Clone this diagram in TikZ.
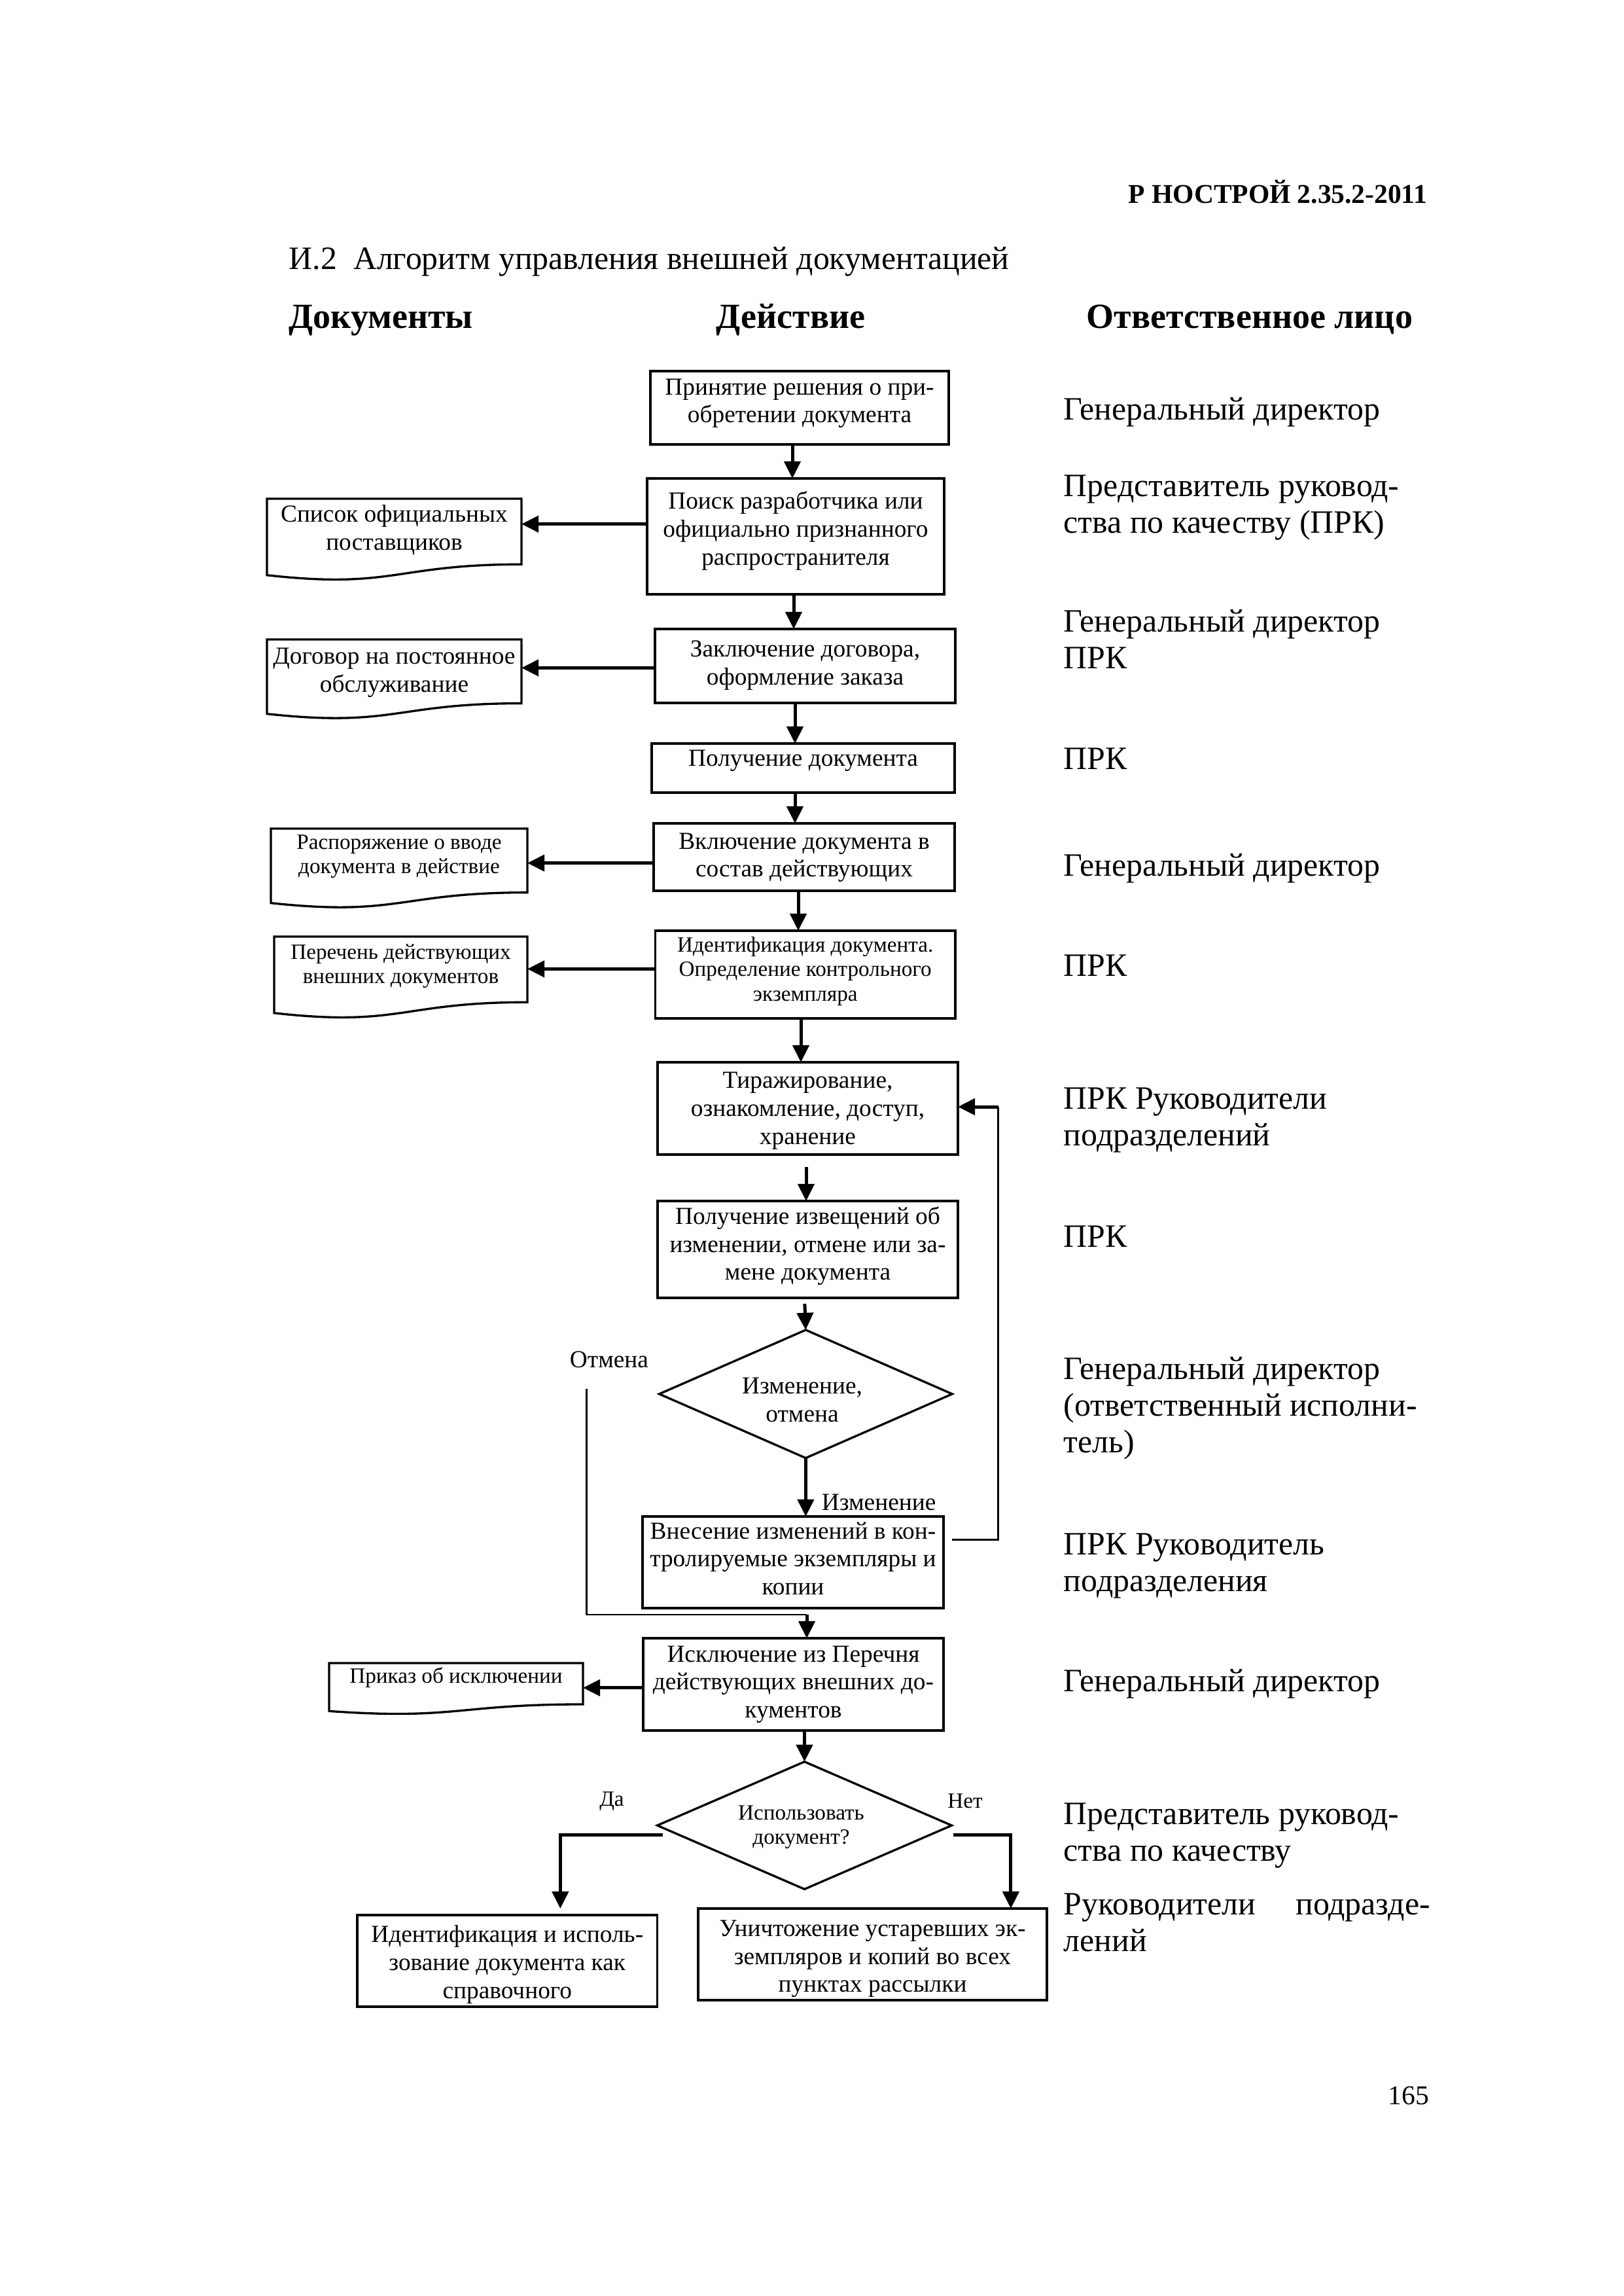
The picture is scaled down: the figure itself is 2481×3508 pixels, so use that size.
\documentclass[tikz,border=0pt]{standalone}
\usepackage{fontspec}
\setmainfont{Liberation Serif}
\usetikzlibrary{arrows.meta,shapes.geometric,fit}

\newcommand\fsz[2]{\fontsize{#1}{#2}\selectfont}

\tikzset{
  box/.style={draw, line width=0.8pt, inner sep=0pt, outer sep=0pt},
  doc/.style={draw, line width=0.8pt},
  dia/.style={draw, diamond, line width=0.8pt, inner sep=0pt, outer sep=0pt},
  t9/.style={align=center, inner sep=0pt, font=\fsz{9}{10.3}},
  t8/.style={align=center, inner sep=0pt, font=\fsz{8}{9}},
  resp/.style={anchor=north west, align=left, inner sep=0pt, font=\fsz{12}{13.5}},
  arr/.style={line width=1.2pt, -{Triangle[length=6.3pt,width=6pt]}},
  thinln/.style={line width=0.6pt},
}

% #1 name, #2 x1, #3 y1, #4 x2, #5 y2, #6 text style, #7 first baseline offset, #8 text
\newcommand\flbox[8]{%
  \node[box, fit={(#2,#3) (#4,#5)}] (#1) {};
  \node[#6, anchor=north] (#1-t) at (#1.north) {\rule{0pt}{#7}#8};
}
% #1 name, #2 x1, #3 y1, #4 x2, #5 H, #6 text style, #7 first baseline offset, #8 text
\newcommand\dcbox[8]{%
  \draw[doc] (#2,#3) -- (#4,#3) -- (#4,{#3+0.802*#5})
    .. controls ({0.5*(#2+#4)},{#3+0.802*#5}) and ({0.5*(#2+#4)},{#3+1.1075*#5}) ..
    (#2,{#3+0.934*#5}) -- cycle;
  \node[inner sep=0pt, outer sep=0pt, fit={(#2,#3) (#4,{#3+0.802*#5})}] (#1) {};
  \node[#6, anchor=north] (#1-t) at (#1.north) {\rule{0pt}{#7}#8};
}

\begin{document}
\begin{tikzpicture}[x=0.0084667cm, y=-0.0084667cm]
\fill[white] (0,0) rectangle (2481,3508);
\useasboundingbox (0,0) rectangle (2481,3508);

% header and headings
\node[anchor=base east, inner sep=0pt, font=\bfseries\fsz{10}{12}] (hdr) at (2182,310) {Р НОСТРОЙ 2.35.2-2011};
\node[anchor=base west, inner sep=0pt, font=\fsz{12}{14}] (ttl) at (441,411.7) {И.2\ \ Алгоритм управления внешней документацией};
\node[anchor=base west, inner sep=0pt, font=\bfseries\fsz{13}{15}] (h1) at (441,501.7) {Документы};
\node[anchor=base west, inner sep=0pt, font=\bfseries\fsz{13}{15}] (h2) at (1094,501.7) {Действие};
\node[anchor=base west, inner sep=0pt, font=\bfseries\fsz{13}{15}] (h3) at (1660,501.7) {Ответственное лицо};

% action boxes
\flbox{b1}{994}{567}{1450}{679}{t9}{8.5pt}{Принятие решения о при-\\обретении документа}
\flbox{b2}{989}{731}{1443}{908}{t9}{11.1pt}{Поиск разработчика или\\официально признанного\\распространителя}
\flbox{b3}{1001}{961}{1460}{1074}{t9}{10pt}{Заключение договора,\\оформление заказа}
\flbox{b4}{996}{1136}{1459}{1211}{t9}{8.1pt}{Получение документа}
\flbox{b5}{999}{1258}{1459}{1361}{t9}{9.2pt}{Включение документа в\\состав действующих}
\flbox{b6}{1001.5}{1422}{1460}{1556}{t8}{7.6pt}{Идентификация документа.\\Определение контрольного\\экземпляра}
\flbox{b7}{1005}{1623}{1464}{1764}{t9}{9.4pt}{Тиражирование,\\ознакомление, доступ,\\хранение}
\flbox{b8}{1005}{1835}{1464}{1983}{t9}{8.3pt}{Получение извещений об\\изменении, отмене или за-\\мене документа}
\node[dia, minimum width=3.791cm, minimum height=1.657cm] (dia1) at (1231.4,2129.8) {};
\node[t9] (dia1-t) at (1226,2138.8) {Изменение,\\отмена};
\flbox{b10}{982}{2317}{1442}{2457}{t9}{8pt}{Внесение изменений в кон-\\тролируемые экземпляры и\\копии}
\flbox{b11}{983}{2503}{1442}{2644}{t9}{8.5pt}{Исключение из Перечня\\действующих внешних до-\\кументов}
\node[dia, minimum width=3.810cm, minimum height=1.649cm] (dia2) at (1229.5,2789) {};
\node[t8] (dia2-t) at (1224.5,2791.4) {Использовать\\документ?};
\flbox{b13}{546}{2926}{1004.5}{3066}{t9}{9.9pt}{Идентификация и исполь-\\зование документа как\\справочного}
\flbox{b14}{1067}{2916}{1600}{3056}{t9}{10pt}{Уничтожение устаревших эк-\\земпляров и копий во всех\\пунктах рассылки}

% document shapes
\dcbox{d1}{408}{762}{797}{125}{t9}{8.4pt}{Список официальных\\поставщиков}
\dcbox{d2}{408}{977}{797}{121.7}{t9}{8.8pt}{Договор на постоянное\\обслуживание}
\dcbox{d3}{414}{1266}{806}{121.7}{t8}{7.4pt}{Распоряжение о вводе\\документа в действие}
\dcbox{d4}{419}{1431}{806}{125}{t8}{8.1pt}{Перечень действующих\\внешних документов}
\dcbox{d5}{503}{2541}{891}{78.5}{t8}{7.1pt}{Приказ об исключении}

% vertical connector positions
\coordinate (ax1) at (1211,0);
\coordinate (ax2) at (1213,0);
\coordinate (ax3) at (1215,0);
\coordinate (ax4) at (1215,0);
\coordinate (ax5) at (1220,0);
\coordinate (ax6) at (1224,0);
\coordinate (ax7) at (1232,0);
\coordinate (ax8) at (1229.5,0);
\coordinate (ax9) at (1232,0);
\coordinate (ax11) at (1229.5,0);
% horizontal connector positions
\coordinate (ay1) at (0,800.7);
\coordinate (ay2) at (0,1020.4);
\coordinate (ay3) at (0,1318.6);
\coordinate (ay4) at (0,1480.4);
\coordinate (ay5) at (0,2578.7);

\draw[arr] (b1.south -| ax1) -- (b2.north -| ax1);
\draw[arr] (b2.south -| ax2) -- (b3.north -| ax2);
\draw[arr] (b3.south -| ax3) -- (b4.north -| ax3);
\draw[arr] (b4.south -| ax4) -- (b5.north -| ax4);
\draw[arr] (b5.south -| ax5) -- (b6.north -| ax5);
\draw[arr] (b6.south -| ax6) -- (b7.north -| ax6);
\draw[arr, shorten <=4.6pt] (b7.south -| ax7) -- (b8.north -| ax7);
\draw[arr, shorten <=2.2pt] (b8.south -| ax8) -- (dia1.north);
\draw[arr] (dia1.south) -- (b10.north -| dia1.south);
\draw[arr] (b11.south -| ax11) -- (dia2.north);

\draw[arr] (b2.west |- ay1) -- (d1.east |- ay1);
\draw[arr] (b3.west |- ay2) -- (d2.east |- ay2);
\draw[arr] (b5.west |- ay3) -- (d3.east |- ay3);
\draw[arr] (b6.west |- ay4) -- (d4.east |- ay4);
\draw[arr] (b11.west |- ay5) -- (d5.east |- ay5);

% cancel branch
\coordinate (otm) at (896.6,2121.7);
\coordinate (otj) at (1233,2467);
\draw[thinln] (otm) |- (otj);
\draw[arr] (otj) -- (b11.north -| otj);
\node[t9] (lotm) at (931,2076.8) {Отмена};
\node[t9, anchor=west] (lizm) at (1255,2295) {Изменение};

% feedback loop
\coordinate (fbs) at (1455,2352.7);
\coordinate (fbc) at (1525.6,1691);
\draw[thinln] (fbs) -| (fbc);
\draw[arr] (fbc) -- (b7.east |- fbc);

% decision branches
\coordinate (da) at (1012.8,2803.4);
\coordinate (dax) at (856.3,0);
\draw[arr, shorten >=2.4pt] (da) -| (b13.north -| dax);
\coordinate (nt) at (1456.8,2803.4);
\coordinate (ntx) at (1544.9,0);
\draw[arr] (nt) -| (b14.north -| ntx);
\node[t8] (lda) at (935,2752) {Да};
\node[t8] (lnet) at (1475,2752) {Нет};

% responsible persons
\node[resp] (r1) at (1625,599) {\rule{0pt}{10pt}Генеральный директор};
\node[resp] (r2) at (1625,716.5) {\rule{0pt}{10pt}Представитель руковод-\\ства по качеству (ПРК)};
\node[resp] (r3) at (1625,923.3) {\rule{0pt}{10pt}Генеральный директор\\ПРК};
\node[resp] (r4) at (1625,1132.8) {\rule{0pt}{10pt}ПРК};
\node[resp] (r5) at (1625,1296.5) {\rule{0pt}{10pt}Генеральный директор};
\node[resp] (r6) at (1625,1449.5) {\rule{0pt}{10pt}ПРК};
\node[resp] (r7) at (1625,1652.3) {\rule{0pt}{10pt}ПРК Руководители\\подразделений};
\node[resp] (r8) at (1625,1862.7) {\rule{0pt}{10pt}ПРК};
\node[resp] (r9) at (1625,2065.5) {\rule{0pt}{10pt}Генеральный директор\\(ответственный исполни-\\тель)};
\node[resp] (r10) at (1625,2333.4) {\rule{0pt}{10pt}ПРК Руководитель\\подразделения};
\node[resp] (r11) at (1625,2541.9) {\rule{0pt}{10pt}Генеральный директор};
\node[resp] (r12) at (1625,2744.7) {\rule{0pt}{10pt}Представитель руковод-\\ства по качеству};
\node[resp] (r13) at (1625,2883.5) {\rule{0pt}{10pt}\makebox[134.9pt]{Руководители\hfill подразде-}\\лений};

% page number
\node[anchor=base east, inner sep=0pt, font=\fsz{10}{12}] (pg) at (2185,3215) {165};
\end{tikzpicture}
\end{document}
